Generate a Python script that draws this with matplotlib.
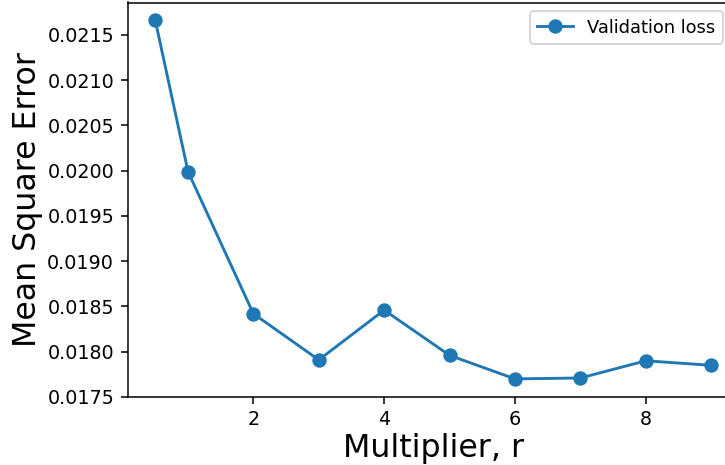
import matplotlib
matplotlib.use("Agg")
from matplotlib import pyplot as plt

DPI = 138

multiplier = [0.5, 1, 2, 3, 4, 5, 6, 7, 8, 9]
val_loss = [0.02166, 0.01999, 0.01842, 0.01791, 0.01846, 0.01796, 0.01770, 0.01771, 0.01790, 0.01785]

fig = plt.figure(figsize=(725 / DPI, 465 / DPI), dpi=DPI)
# axes run past the right edge of the canvas, as in the reference
ax = fig.add_axes([127.5 / 725, 68 / 465, (739 - 127.5) / 725, (397 - 2.5) / 465])

ax.plot(multiplier, val_loss, marker="o", color="#1f77b4", linewidth=1.5,
        markersize=6.5, label="Validation loss")

ax.set_xlabel("Multiplier, r", fontsize=16.5, labelpad=2)
ax.set_ylabel("Mean Square Error", fontsize=16.5, labelpad=2)
ax.set_xticks([2, 4, 6, 8])
ax.set_yticks([0.0175, 0.0180, 0.0185, 0.0190, 0.0195, 0.0200, 0.0205, 0.0210, 0.0215])
ax.yaxis.set_major_formatter(matplotlib.ticker.FormatStrFormatter("%.4f"))
ax.legend(loc="upper right", bbox_to_anchor=(0.988, 1.0), fontsize=9.3)

fig.savefig("out.png", dpi=DPI)
